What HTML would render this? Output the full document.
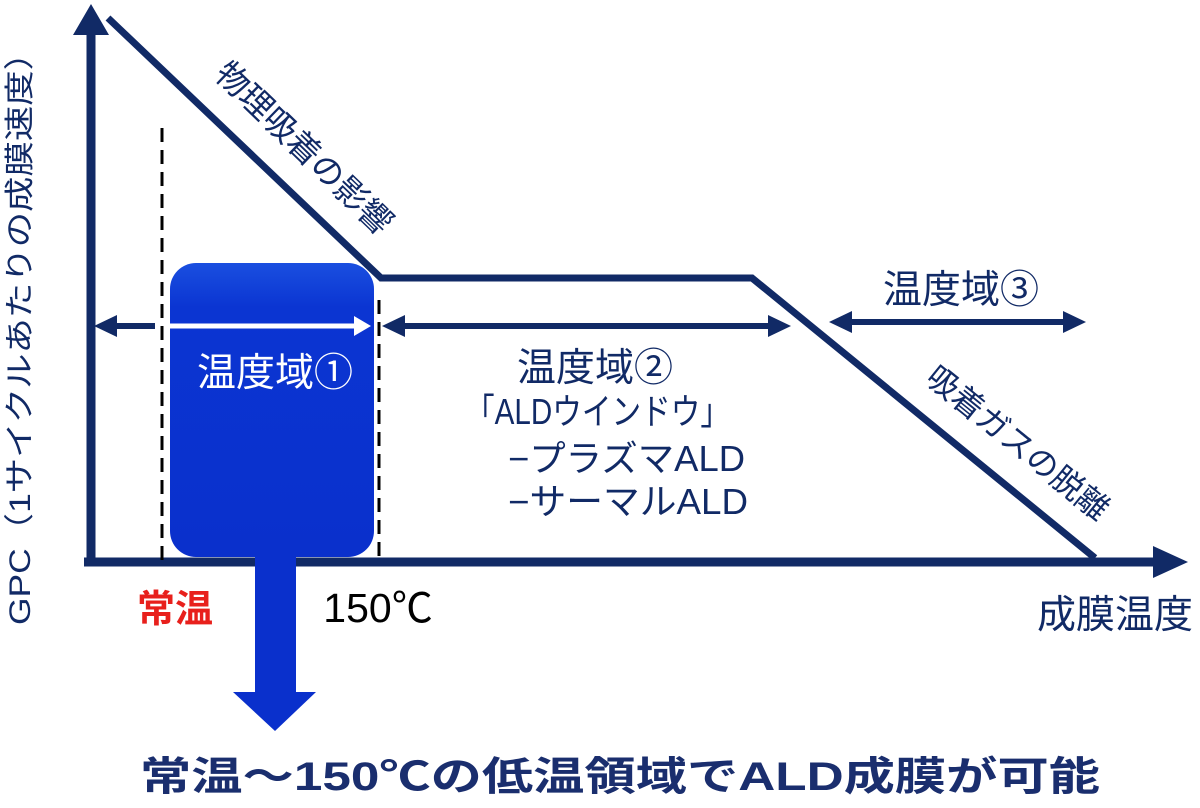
<!DOCTYPE html>
<html><head><meta charset="utf-8"><style>
html,body{margin:0;padding:0;background:#fff;}
svg{display:block;font-family:"Liberation Sans","Noto Sans CJK JP",sans-serif;}
</style></head><body>
<svg width="1200" height="808" viewBox="0 0 1200 808" xmlns="http://www.w3.org/2000/svg">
<defs>
<linearGradient id="g" x1="0" y1="0" x2="0" y2="1">
<stop offset="0" stop-color="#1a4fe0"/><stop offset="0.15" stop-color="#0b35d2"/><stop offset="1" stop-color="#0a30cc"/>
</linearGradient>
</defs>
<g fill="#112a66" stroke="#112a66">
<line x1="91" y1="30" x2="91" y2="566" stroke-width="9"/>
<polygon points="91,4 73,35 109,35" stroke="none"/>
<line x1="84" y1="562" x2="1160" y2="562" stroke-width="9"/>
<polygon points="1188,562 1153,546 1153,578" stroke="none"/>
</g>
<line x1="162" y1="128" x2="162" y2="562" stroke="#000" stroke-width="3" stroke-dasharray="14,8"/>
<line x1="379" y1="300" x2="379" y2="560" stroke="#000" stroke-width="3" stroke-dasharray="14,8"/>
<polyline points="108,18 381,278 752,278 1095,558" fill="none" stroke="#112a66" stroke-width="7"/>
<rect x="170" y="263" width="204" height="294" rx="26" fill="url(#g)"/>
<rect x="255" y="556" width="41" height="138" fill="#0a30cc"/>
<polygon points="233,692 316,692 275,731" fill="#0a30cc"/>
<g fill="#112a66" stroke="#112a66">
<line x1="108" y1="326" x2="155" y2="326" stroke-width="6"/>
<polygon points="94,326 117,315 117,337" stroke="none"/>
<line x1="396" y1="326" x2="775" y2="326" stroke-width="6"/>
<polygon points="382,326 405,315 405,337" stroke="none"/>
<polygon points="791,326 768,315 768,337" stroke="none"/>
<line x1="845" y1="322" x2="1072" y2="322" stroke-width="6"/>
<polygon points="829,322 852,311 852,333" stroke="none"/>
<polygon points="1086,322 1063,311 1063,333" stroke="none"/>
</g>
<line x1="170" y1="326" x2="356" y2="326" stroke="#fff" stroke-width="5"/>
<polygon points="371,326 354,316 354,336" fill="#fff"/>
<g fill="#112a66">
<text transform="translate(30,330) rotate(-90)" font-size="30" text-anchor="middle" textLength="590" lengthAdjust="spacingAndGlyphs">GPC（1サイクルあたりの成膜速度）</text>
<text transform="translate(302,150) rotate(44)" font-size="33" text-anchor="middle" dominant-baseline="middle">物理吸着の影響</text>
<text transform="translate(1016,445) rotate(39)" font-size="32" text-anchor="middle" dominant-baseline="middle">吸着ガスの脱離</text>
<text x="517" y="381" font-size="39" textLength="156" lengthAdjust="spacingAndGlyphs">温度域②</text>
<text x="465" y="424" font-size="36" textLength="265" lengthAdjust="spacingAndGlyphs">「ALDウインドウ」</text>
<text x="508" y="471" font-size="36" textLength="237" lengthAdjust="spacingAndGlyphs">−プラズマALD</text>
<text x="508" y="514" font-size="36" textLength="240" lengthAdjust="spacingAndGlyphs">−サーマルALD</text>
<text x="961" y="303" font-size="39" text-anchor="middle">温度域③</text>
<text x="1115" y="628" font-size="39" text-anchor="middle">成膜温度</text>
<text x="620" y="790" font-size="40" font-weight="bold" text-anchor="middle" fill="#1a2e6e" textLength="960" lengthAdjust="spacingAndGlyphs">常温～150℃の低温領域でALD成膜が可能</text>
</g>
<text x="275" y="386" font-size="39" fill="#fff" text-anchor="middle">温度域①</text>
<text x="175" y="622" font-size="38" font-weight="bold" fill="#e8201c" text-anchor="middle">常温</text>
<text x="378" y="622" font-size="41" fill="#000" text-anchor="middle">150℃</text>
</svg>
</body></html>
